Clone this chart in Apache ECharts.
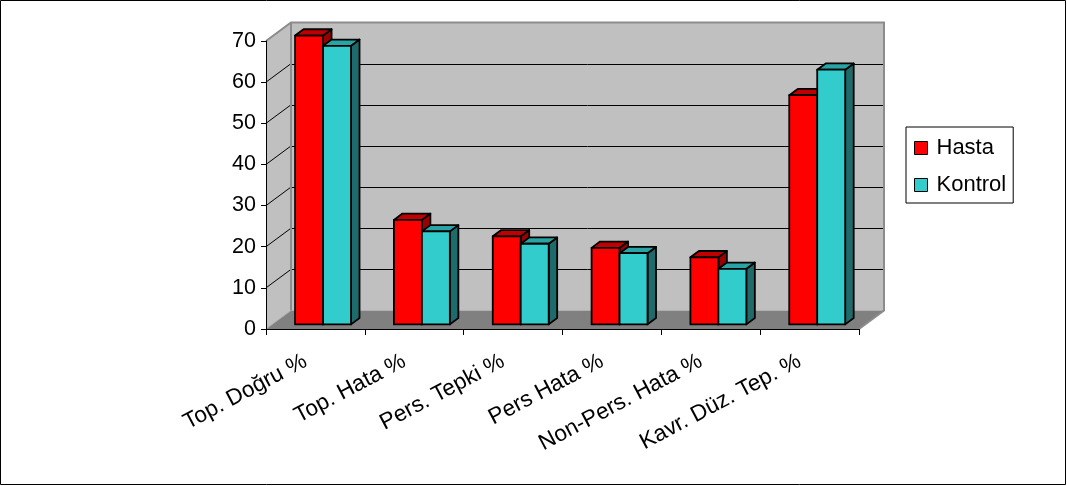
<!DOCTYPE html>
<html>
<head>
<meta charset="utf-8">
<script src="https://cdn.jsdelivr.net/npm/echarts@6/dist/echarts.min.js"></script>
<style>
  html, body { margin: 0; padding: 0; background: #fff; }
  #chart { width: 1067px; height: 486px; }
</style>
</head>
<body>
<div id="chart"></div>
<script>
// Wisconsin card sorting scores, patient vs control group (%)
const categories = ['Top. Doğru %', 'Top. Hata %', 'Pers. Tepki %', 'Pers Hata %', 'Non-Pers. Hata %', 'Kavr. Düz. Tep. %'];
const hasta = [70.2, 25.4, 21.4, 18.6, 16.3, 55.7];
const kontrol = [67.7, 22.6, 19.6, 17.3, 13.5, 61.9];
const yTicks = [0, 10, 20, 30, 40, 50, 60, 70];
const seriesNames = ['Hasta', 'Kontrol'];

const FONT = '"Liberation Sans", Arial, Helvetica, sans-serif';

// Pseudo-3D: depth vector of the plot box and where the bars sit inside it
const DEPTH_X = 25, DEPTH_Y = -18.5;
const BAR_FRONT = 0.25, BAR_BACK = 0.59;
const GROUP_START = 0.231, BAR_FRAC = 0.283;
const LABEL_ANGLE = 28 * Math.PI / 180;

const faces = {
  Hasta:   { front: '#ff0000', top: '#c00000', side: '#990000' },
  Kontrol: { front: '#33cccc', top: '#29a3a3', side: '#1f6b6b' }
};

function crisp(v) { return Math.round(v) + 0.5; }

// Left wall, back wall, floor and gridlines of the box
function renderWalls(params, api) {
  const cs = params.coordSys;
  const x0 = cs.x, x1 = cs.x + cs.width;
  const yT = cs.y, yB = cs.y + cs.height;
  const dx = DEPTH_X, dy = DEPTH_Y;
  const edge = { stroke: '#8c8c8c', lineWidth: 2, fill: null };
  const children = [
    { type: 'polygon', shape: { points: [[x0, yT], [x0 + dx, yT + dy], [x0 + dx, yB + dy], [x0, yB]] },
      style: { fill: '#c0c0c0' } },
    { type: 'rect', shape: { x: x0 + dx, y: yT + dy, width: x1 - x0, height: yB - yT },
      style: { fill: '#c0c0c0' } },
    { type: 'polygon', shape: { points: [[x0, yB], [x1, yB], [x1 + dx, yB + dy], [x0 + dx, yB + dy]] },
      style: { fill: '#808080' } }
  ];
  yTicks.forEach(function (v, k) {
    if (k === 0 || k === yTicks.length - 1) return;
    const y = api.coord([0, v])[1];
    children.push({ type: 'line', shape: { x1: x0 + dx, y1: crisp(y + dy), x2: x1 + dx, y2: crisp(y + dy) },
      style: { stroke: '#000', lineWidth: 1 } });
    children.push({ type: 'line', shape: { x1: x0, y1: y, x2: x0 + dx, y2: y + dy },
      style: { stroke: '#000', lineWidth: 1 } });
  });
  // outline of the walls
  children.push({ type: 'polyline', shape: { points: [[x0, yT], [x0 + dx, yT + dy], [x1 + dx, yT + dy], [x1 + dx, yB + dy], [x1, yB]] },
    style: edge });
  children.push({ type: 'line', shape: { x1: x0 + dx, y1: yT + dy, x2: x0 + dx, y2: yB + dy },
    style: { stroke: '#8c8c8c', lineWidth: 2 } });
  children.push({ type: 'line', shape: { x1: x0, y1: yB, x2: x0 + dx, y2: yB + dy },
    style: { stroke: '#a8a8a8', lineWidth: 1 } });
  return { type: 'group', children: children };
}

// One 3D column: side, top, then front face
function makeBarRenderer(si) {
  return function (params, api) {
    const idx = api.value(0), v = api.value(1);
    const base = api.coord([idx, 0]);
    const topY = api.coord([idx, v])[1];
    const band = api.size([1, 0])[0];
    const xL = base[0] - band / 2 + band * (GROUP_START + si * BAR_FRAC);
    const xR = xL + band * BAR_FRAC;
    const fx = DEPTH_X * BAR_FRONT, fy = DEPTH_Y * BAR_FRONT;
    const bx = DEPTH_X * BAR_BACK, by = DEPTH_Y * BAR_BACK;
    const c = faces[seriesNames[si]];
    const st = { stroke: '#000', lineWidth: 1.8, lineJoin: 'round' };
    return {
      type: 'group',
      children: [
        { type: 'polygon',
          shape: { points: [[xR + fx, topY + fy], [xR + bx, topY + by], [xR + bx, base[1] + by], [xR + fx, base[1] + fy]] },
          style: Object.assign({ fill: c.side }, st) },
        { type: 'polygon',
          shape: { points: [[xL + fx, topY + fy], [xL + bx, topY + by], [xR + bx, topY + by], [xR + fx, topY + fy]] },
          style: Object.assign({ fill: c.top }, st) },
        { type: 'rect',
          shape: { x: xL + fx, y: topY + fy, width: xR - xL, height: base[1] - topY },
          style: Object.assign({ fill: c.front }, st) }
      ]
    };
  };
}

// Slanted category names under the floor
function renderCategoryLabel(params, api) {
  const idx = api.value(0);
  const p = api.coord([idx, 0]);
  return {
    type: 'text',
    x: p[0] - 10,
    y: p[1] + 31,
    rotation: LABEL_ANGLE,
    style: {
      text: categories[idx],
      align: 'right',
      verticalAlign: 'middle',
      fill: '#000',
      fontSize: 22.5,
      fontFamily: FONT
    }
  };
}

const chart = echarts.init(document.getElementById('chart'), null, { renderer: 'canvas' });

chart.setOption({
  animation: false,
  backgroundColor: '#fff',
  textStyle: { fontFamily: FONT },
  grid: { left: 266, top: 41, width: 593, height: 288 },
  graphic: [{
    type: 'rect', silent: true, z: 100,
    shape: { x: 0.5, y: 0.5, width: 1065, height: 484 },
    style: { fill: null, stroke: '#000', lineWidth: 1 }
  }],
  legend: {
    orient: 'vertical',
    left: 906, top: 127,
    padding: [9, 7, 6, 8],
    itemGap: 13,
    itemWidth: 13, itemHeight: 13,
    icon: 'rect',
    borderColor: '#000', borderWidth: 1,
    backgroundColor: '#fff',
    itemStyle: { borderColor: '#000', borderWidth: 1 },
    textStyle: { fontSize: 22, color: '#000', fontFamily: FONT, lineHeight: 24, padding: [0, 0, 0, 4] },
    data: seriesNames
  },
  xAxis: {
    type: 'category',
    data: categories,
    boundaryGap: true,
    z: 10,
    axisLine: { lineStyle: { color: '#000', width: 1 } },
    axisTick: { show: true, interval: 0, length: 6, lineStyle: { color: '#000' } },
    axisLabel: { show: false },
    splitLine: { show: false }
  },
  yAxis: {
    type: 'value',
    min: 0, max: 70, interval: 10,
    z: 10,
    axisLine: { show: true, lineStyle: { color: '#000', width: 1 } },
    axisTick: { show: true, length: 5, lineStyle: { color: '#000' } },
    axisLabel: { color: '#000', fontSize: 21.5, margin: 10, fontFamily: FONT },
    splitLine: { show: false }
  },
  series: [
    {
      type: 'custom', name: 'walls', silent: true, z: 1,
      renderItem: renderWalls,
      data: [[0, 0]],
      encode: { x: 0, y: 1 }
    },
    {
      type: 'custom', name: seriesNames[0], z: 3,
      itemStyle: { color: faces.Hasta.front },
      renderItem: makeBarRenderer(0),
      data: hasta.map(function (v, i) { return [i, v]; }),
      encode: { x: 0, y: 1 }
    },
    {
      type: 'custom', name: seriesNames[1], z: 4,
      itemStyle: { color: faces.Kontrol.front },
      renderItem: makeBarRenderer(1),
      data: kontrol.map(function (v, i) { return [i, v]; }),
      encode: { x: 0, y: 1 }
    },
    {
      type: 'custom', name: 'labels', silent: true, z: 5,
      renderItem: renderCategoryLabel,
      data: categories.map(function (c, i) { return [i, 0]; }),
      encode: { x: 0, y: 1 }
    }
  ]
});
</script>
</body>
</html>
